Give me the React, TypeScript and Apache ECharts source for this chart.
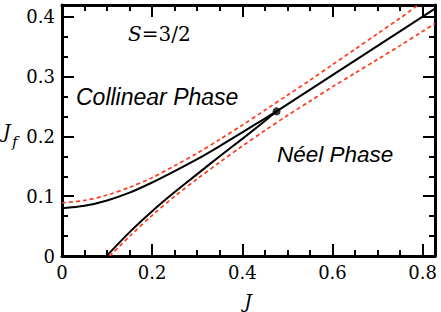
import React, { useEffect, useRef } from "react";
import * as echarts from "echarts";

// Axis ranges and ticks
const X_MAX = 0.8275;
const Y_MAX = 0.42;
const xMajorTicks = [0, 0.2, 0.4, 0.6, 0.8];
const xMinorTicks = [0.05, 0.1, 0.15, 0.25, 0.3, 0.35, 0.45, 0.5, 0.55, 0.65, 0.7, 0.75];
const yMajorTicks = [0, 0.1, 0.2, 0.3, 0.4];
const yMinorTicks = [1 / 30, 2 / 30, 4 / 30, 5 / 30, 7 / 30, 8 / 30, 10 / 30, 11 / 30];

// Solid black boundaries [J, Jf]
const collinearBoundary = [
  [0, 0.08], [0.05, 0.084], [0.1, 0.093], [0.15, 0.106], [0.2, 0.123],
  [0.25, 0.142], [0.3, 0.162], [0.35, 0.184], [0.4, 0.207], [0.45, 0.23], [0.476, 0.242],
];
const neelBoundary = [
  [0.099, 0], [0.15, 0.04], [0.2, 0.075], [0.25, 0.107], [0.3, 0.137],
  [0.35, 0.167], [0.4, 0.196], [0.45, 0.226], [0.476, 0.242],
];
const commonBoundary = [[0.476, 0.242], [0.8275, 0.414]];
const tricriticalPoint = [[0.476, 0.242]];

// Red dashed boundaries [J, Jf]
const upperDashed = [
  [0, 0.089], [0.05, 0.093], [0.1, 0.102], [0.15, 0.115], [0.2, 0.131],
  [0.25, 0.151], [0.3, 0.172], [0.35, 0.195], [0.4, 0.219], [0.45, 0.244],
  [0.5, 0.269], [0.55, 0.294], [0.6, 0.32], [0.65, 0.346], [0.7, 0.372],
  [0.75, 0.398], [0.79, 0.42],
];
const lowerDashed = [
  [0.106, 0], [0.15, 0.033], [0.2, 0.068], [0.25, 0.1], [0.3, 0.129],
  [0.35, 0.157], [0.4, 0.184], [0.45, 0.21], [0.5, 0.235], [0.55, 0.259],
  [0.6, 0.283], [0.65, 0.306], [0.7, 0.329], [0.75, 0.352], [0.8, 0.376], [0.8275, 0.389],
];

const SERIF = "DejaVu Serif";
const SANS = "Arial";
const RED = "#ff3a1a";

const fmt = (v: number) => (Math.abs(v) < 1e-9 ? "0" : v.toFixed(1));

function axisDef(kind: "x" | "y", position: string, minor: boolean, withLabels: boolean) {
  return {
    type: "value",
    position,
    min: 0,
    max: kind === "x" ? X_MAX : Y_MAX,
    splitLine: { show: false },
    axisLine: { show: !minor, onZero: false, lineStyle: { color: "#000", width: 3 } },
    axisTick: {
      show: true,
      inside: true,
      length: minor ? 6 : 12,
      lineStyle: { color: "#000", width: 2 },
      customValues: kind === "x" ? (minor ? xMinorTicks : xMajorTicks) : minor ? yMinorTicks : yMajorTicks,
    },
    axisLabel: withLabels
      ? {
          show: true,
          customValues: kind === "x" ? xMajorTicks : yMajorTicks,
          formatter: fmt,
          fontFamily: SERIF,
          fontSize: 18,
          color: "#000",
          margin: kind === "x" ? 7 : 7,
        }
      : { show: false },
  };
}

export default function App() {
  const ref = useRef<HTMLDivElement>(null);
  useEffect(() => {
    if (!ref.current) return;
    const chart = echarts.init(ref.current, null, { renderer: "svg" });
    chart.setOption({
      animation: false,
      backgroundColor: "#fff",
      grid: { left: 62, right: 6, top: 5, bottom: 56, containLabel: false },
      xAxis: [
        axisDef("x", "bottom", false, true),
        axisDef("x", "bottom", true, false),
        axisDef("x", "top", false, false),
        axisDef("x", "top", true, false),
      ],
      yAxis: [
        axisDef("y", "left", false, true),
        axisDef("y", "left", true, false),
        axisDef("y", "right", false, false),
        axisDef("y", "right", true, false),
      ],
      series: [
        { type: "line", data: upperDashed, smooth: 0.3, symbol: "none", lineStyle: { color: RED, width: 1.7, type: [4, 3] }, z: 2 },
        { type: "line", data: lowerDashed, smooth: 0.3, symbol: "none", lineStyle: { color: RED, width: 1.7, type: [4, 3] }, z: 2 },
        { type: "line", data: collinearBoundary, smooth: 0.3, symbol: "none", lineStyle: { color: "#000", width: 2 }, z: 3 },
        { type: "line", data: neelBoundary, smooth: 0.3, symbol: "none", lineStyle: { color: "#000", width: 2 }, z: 3 },
        { type: "line", data: commonBoundary, symbol: "none", lineStyle: { color: "#000", width: 2 }, z: 3 },
        { type: "scatter", data: tricriticalPoint, symbol: "circle", symbolSize: 8, itemStyle: { color: "#000" }, z: 4 },
      ],
      graphic: [
        {
          type: "text",
          style: {
            x: 128,
            y: 34,
            text: "{i|S}{n|=3/2}",
            verticalAlign: "middle",
            rich: {
              i: { fontFamily: SERIF, fontStyle: "italic", fontSize: 20, fill: "#000" },
              n: { fontFamily: SERIF, fontSize: 20, fill: "#000" },
            },
          },
        },
        { type: "text", style: { x: 76, y: 97, text: "Collinear Phase", fontFamily: SANS, fontStyle: "italic", fontSize: 23, fill: "#000", verticalAlign: "middle" } },
        { type: "text", style: { x: 277, y: 154, text: "Néel Phase", fontFamily: SANS, fontStyle: "italic", fontSize: 22.5, fill: "#000", verticalAlign: "middle" } },
        { type: "text", style: { x: 248, y: 301, text: "J", fontFamily: SERIF, fontStyle: "italic", fontSize: 19, fill: "#000", align: "center", verticalAlign: "middle" } },
        { type: "text", style: { x: 3, y: 131, text: "J", fontFamily: SERIF, fontStyle: "italic", fontSize: 19, fill: "#000", verticalAlign: "middle" } },
        { type: "text", style: { x: 12, y: 142, text: "f", fontFamily: SERIF, fontStyle: "italic", fontSize: 15, fill: "#000", verticalAlign: "middle" } },
      ],
    });
    return () => chart.dispose();
  }, []);
  return <div ref={ref} style={{ width: 441, height: 312, position: "absolute", left: 0, top: 0 }} />;
}
